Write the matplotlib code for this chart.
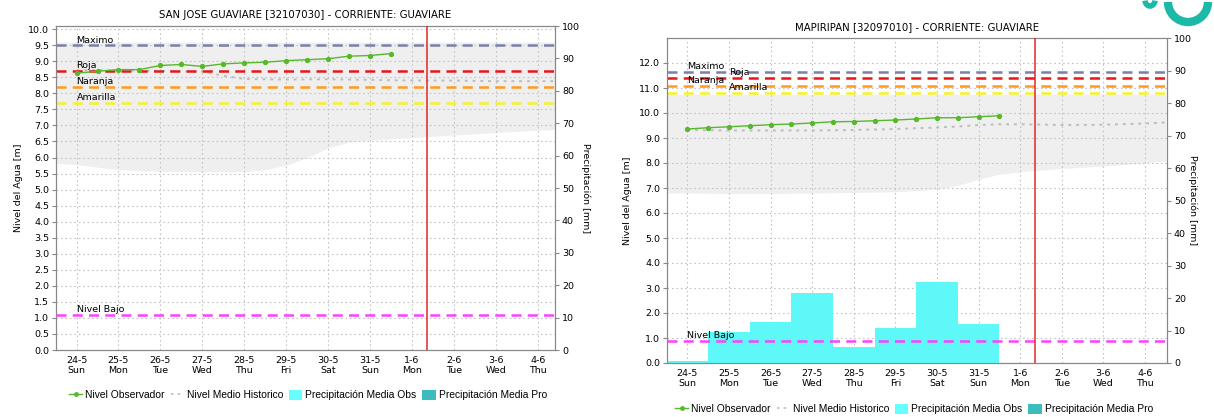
import matplotlib
matplotlib.use("Agg")
import matplotlib.pyplot as plt
from matplotlib.lines import Line2D
from matplotlib.patches import Patch, Arc
from matplotlib.transforms import blended_transform_factory

plt.rcParams['font.family'] = ['DejaVu Sans']

# eje x: dias (0 = 24-5)
dias_ticks = list(range(12))
etiquetas = ['24-5\nSun', '25-5\nMon', '26-5\nTue', '27-5\nWed', '28-5\nThu', '29-5\nFri',
             '30-5\nSat', '31-5\nSun', '1-6\nMon', '2-6\nTue', '3-6\nWed', '4-6\nThu']
dia_actual = 8.35

# --- SAN JOSE GUAVIARE ---
sj_obs_dias = [0, 0.5, 1, 1.5, 2, 2.5, 3, 3.5, 4, 4.5, 5, 5.5, 6, 6.5, 7, 7.5]
sj_obs = [8.63, 8.69, 8.74, 8.74, 8.87, 8.90, 8.84, 8.92, 8.95, 8.97, 9.02, 9.05, 9.08, 9.16, 9.18, 9.24]
sj_medio_dias = [0, 1, 2, 3, 3.5, 4, 5, 6, 7, 8, 9, 10, 11, 11.5]
sj_medio = [8.72, 8.72, 8.70, 8.68, 8.55, 8.45, 8.43, 8.44, 8.42, 8.40, 8.40, 8.38, 8.38, 8.38]
sj_banda_dias = [-0.5, 0, 0.5, 1, 2, 3, 4, 4.5, 5, 5.5, 6, 6.5, 7, 8, 9, 10, 11, 11.5]
sj_banda_min = [5.82, 5.78, 5.70, 5.62, 5.57, 5.55, 5.56, 5.62, 5.76, 6.00, 6.30, 6.48, 6.55, 6.62, 6.70, 6.78, 6.85, 6.88]
sj_banda_max = [9.6] * 18
sj_umbrales = {'Maximo': 9.5, 'Roja': 8.7, 'Naranja': 8.2, 'Amarilla': 7.7}
sj_bajo = 1.1
sj_precip_dias = []
sj_precip = []

# --- MAPIRIPAN ---
mp_obs_dias = [0, 0.5, 1, 1.5, 2, 2.5, 3, 3.5, 4, 4.5, 5, 5.5, 6, 6.5, 7, 7.5]
mp_obs = [9.36, 9.41, 9.45, 9.49, 9.53, 9.56, 9.60, 9.65, 9.66, 9.69, 9.72, 9.76, 9.81, 9.81, 9.85, 9.89]
mp_medio_dias = [0, 1, 2, 3, 4, 5, 6, 6.5, 7, 7.5, 8, 9, 10, 11, 11.5]
mp_medio = [9.32, 9.30, 9.30, 9.30, 9.32, 9.36, 9.42, 9.46, 9.52, 9.55, 9.55, 9.52, 9.53, 9.58, 9.62]
mp_banda_dias = [-0.5, 0, 1, 2, 3, 4, 5, 6, 6.5, 7, 7.5, 8, 8.5, 9, 10, 11, 11.5]
mp_banda_min = [6.80, 6.80, 6.78, 6.78, 6.80, 6.82, 6.85, 6.95, 7.10, 7.35, 7.55, 7.65, 7.72, 7.78, 7.88, 8.00, 8.08]
mp_banda_max = [10.75] * 17
mp_umbrales = {'Maximo': 11.65, 'Roja': 11.4, 'Naranja': 11.1, 'Amarilla': 10.8}
mp_bajo = 0.9
mp_precip_dias = [0, 1, 2, 3, 4, 5, 6, 7]
mp_precip = [0.7, 9.5, 12.6, 21.5, 4.8, 10.7, 25.0, 12.0]

colores_umbral = {'Maximo': '#7a80a8', 'Roja': '#e8161a', 'Naranja': '#ff9a22', 'Amarilla': '#f4f426'}
c_obs = '#58b82c'
c_bajo = '#ff40ff'
c_precip = '#5ef8f8'
c_pro = '#3cbcbc'
c_gris = '#888888'

W, H = 1214, 417
fig = plt.figure(figsize=(W / 100, H / 100), dpi=100)


def panel(rect, titulo, obs_dias, obs, medio_dias, medio, banda_dias, bmin, bmax,
          umbrales, x_etq, bajo, precip_dias, precip, ylim, yticks, xlim, ylab_x, y2lab_x):
    ax = fig.add_axes(rect)
    ax2 = ax.twinx()
    ax.set_xlim(*xlim)
    ax.set_ylim(*ylim)
    ax2.set_ylim(0, 100)
    ax.set_yticks(yticks)
    ax.set_yticklabels(['%.1f' % v for v in yticks])
    ax2.set_yticks(range(0, 101, 10))
    ax.set_xticks(dias_ticks)
    ax.set_xticklabels(etiquetas)
    for a in (ax, ax2):
        a.tick_params(labelsize=6.8, length=3, color=c_gris, pad=2)
        for s in a.spines.values():
            s.set_color(c_gris)
    ax.tick_params(axis='x', length=0, pad=4)
    ax.set_axisbelow(True)
    ax.grid(True, linestyle=(0, (1.5, 2.5)), color='#c4c4c4', linewidth=0.8)

    # banda historica
    ax.fill_between(banda_dias, bmin, bmax, color='#efefef', linewidth=0, zorder=0.5)
    ax.plot(medio_dias, medio, linestyle=(0, (1.5, 2.5)), color='#bdbdbd', linewidth=1.4, zorder=2)

    # umbrales
    for nombre, valor in umbrales.items():
        ax.axhline(valor, color=colores_umbral[nombre], linestyle=(0, (4, 2.5)), linewidth=1.8, zorder=3)
        ax.annotate(nombre, (x_etq[nombre], valor), xytext=(0, 0.5), textcoords='offset points',
                    fontsize=6.8, va='bottom', ha='left', zorder=5)

    # precipitacion (barras) en el eje secundario
    if precip:
        ax2.bar(precip_dias, precip, width=1.0, color=c_precip, linewidth=0, zorder=1)

    tr = blended_transform_factory(ax2.transAxes, ax.transData)
    ax2.plot([0, 1], [bajo, bajo], transform=tr, color=c_bajo, linestyle=(0, (4, 2.5)),
             linewidth=1.8, zorder=3)
    ax2.annotate('Nivel Bajo', (0, bajo), xycoords=ax.transData, xytext=(0, 0.5),
                 textcoords='offset points', fontsize=6.8, va='bottom', ha='left', zorder=5)
    ax2.axvline(dia_actual, color='#e02828', linewidth=1.1, zorder=4)

    ax2.plot(obs_dias, obs, transform=ax.transData, color=c_obs, marker='o', markersize=2.8,
             linewidth=1.0, zorder=6)

    ax.set_title(titulo, fontsize=7.3, pad=6)
    ax.set_ylabel('Nivel del Agua [m]', fontsize=6.8)
    ax2.set_ylabel('Precipitación [mm]', fontsize=6.8, rotation=270)
    ax.yaxis.set_label_coords(ylab_x, 0.5)
    ax2.yaxis.set_label_coords(y2lab_x, 0.5)
    return ax


panel([56 / W, 1 - 350 / H, 499 / W, 324 / H], 'SAN JOSE GUAVIARE [32107030] - CORRIENTE: GUAVIARE',
      sj_obs_dias, sj_obs, sj_medio_dias, sj_medio, sj_banda_dias, sj_banda_min, sj_banda_max,
      sj_umbrales, {'Maximo': 0, 'Roja': 0, 'Naranja': 0, 'Amarilla': 0}, sj_bajo,
      sj_precip_dias, sj_precip, (0, 10.1), [i * 0.5 for i in range(21)], (-0.49, 11.41),
      -0.066, 1.072)

panel([667 / W, 1 - 363 / H, 500 / W, 325 / H], 'MAPIRIPAN [32097010] - CORRIENTE: GUAVIARE',
      mp_obs_dias, mp_obs, mp_medio_dias, mp_medio, mp_banda_dias, mp_banda_min, mp_banda_max,
      mp_umbrales, {'Maximo': 0, 'Roja': 1, 'Naranja': 0, 'Amarilla': 1}, mp_bajo,
      mp_precip_dias, mp_precip, (0, 13.0), [float(i) for i in range(13)], (-0.49, 11.53),
      -0.07, 1.06)

# leyendas
handles = [Line2D([], [], color=c_obs, marker='o', markersize=2.5, linewidth=1.0),
           Line2D([], [], color='#bdbdbd', linestyle=(0, (1.5, 2.5)), linewidth=1.2),
           Patch(facecolor='#66ffff', edgecolor='none'),
           Patch(facecolor=c_pro, edgecolor='none')]
nombres = ['Nivel Observador', 'Nivel Medio Historico', 'Precipitación Media Obs', 'Precipitación Media Pro']
for cx, cy in [(308, 395), (914, 409)]:
    fig.legend(handles, nombres, loc='center', bbox_to_anchor=(cx / W, 1 - cy / H), ncol=4,
               frameon=False, prop={'family': 'Liberation Sans', 'size': 7.4},
               handlelength=1.3, handleheight=1.1, handletextpad=0.3,
               columnspacing=0.55, borderpad=0)

# logo (esquina superior derecha)
fig.add_artist(Arc((1188 / W, 1 - 2 / H), 40 / W, 40 / H, theta1=180, theta2=360,
                   color='#1cb8a8', linewidth=6, transform=fig.transFigure))
fig.add_artist(Arc((1150 / W, 1 - 0 / H), 10 / W, 12 / H, theta1=200, theta2=340,
                   color='#1cb8a8', linewidth=4, transform=fig.transFigure))

fig.savefig('out.png', dpi=100)
